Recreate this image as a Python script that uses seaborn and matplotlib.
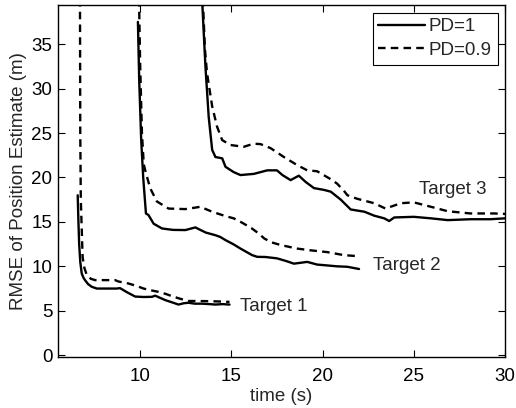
import matplotlib
matplotlib.use("Agg")
import matplotlib.pyplot as plt
import seaborn as sns
import pandas as pd

# ---------------- data ----------------
t1_pd1_t = [6.58, 6.62, 6.66, 6.72, 6.8, 6.9, 6.98, 7.15, 7.35, 7.63, 8.2, 8.72, 8.9, 9.27, 9.73,
            10.2, 10.65, 10.83, 11.1, 11.38, 11.75, 12.1, 12.4, 12.66, 13.0, 13.4, 13.8, 14.13, 14.5, 14.9]
t1_pd1_y = [18.0, 15.0, 12.5, 10.5, 9.2, 8.7, 8.45, 8.0, 7.7, 7.5, 7.5, 7.5, 7.55, 7.1, 6.6,
            6.55, 6.57, 6.7, 6.45, 6.2, 5.95, 5.7, 5.85, 5.9, 5.8, 5.8, 5.75, 5.7, 5.75, 5.7]

t1_pd09_t = [6.7, 6.72, 6.75, 6.85, 6.95, 7.08, 7.3, 7.53, 8.0, 8.63, 8.8, 9.36, 9.8, 10.19, 10.6,
             11.0, 11.4, 11.75, 12.2, 12.66, 13.2, 13.76, 14.3, 14.9]
t1_pd09_y = [45.0, 25.0, 17.5, 11.0, 9.8, 9.0, 8.6, 8.45, 8.45, 8.45, 8.3, 8.07, 7.8, 7.5, 7.3,
             7.13, 6.9, 6.64, 6.35, 6.1, 6.1, 6.08, 6.05, 6.0]

t2_pd1_t = [9.88, 9.95, 10.06, 10.17, 10.32, 10.46, 10.74, 11.2, 11.8, 12.48, 13.03, 13.3, 13.6, 14.13,
            14.4, 14.68, 15.1, 15.5, 16.14, 16.42, 16.87, 17.5, 18.0, 18.43, 19.16, 19.7, 20.26, 20.8,
            21.36, 22.0]
t2_pd1_y = [37.5, 31.0, 24.2, 20.0, 15.95, 15.77, 14.8, 14.26, 14.1, 14.08, 14.38, 14.1, 13.8, 13.5,
            13.3, 12.95, 12.5, 12.0, 11.26, 11.07, 11.05, 10.9, 10.6, 10.3, 10.5, 10.2, 10.1, 10.0,
            9.95, 9.7]

t2_pd09_t = [9.9, 10.0, 10.1, 10.2, 10.28, 10.55, 10.92, 11.56, 12.48, 13.0, 13.3, 13.95, 14.68, 15.13,
             15.6, 16.1, 16.5, 16.8, 17.2, 17.7, 18.6, 19.35, 20.26, 21.17, 21.9]
t2_pd09_y = [45.0, 33.0, 25.0, 21.5, 20.8, 18.8, 17.3, 16.5, 16.44, 16.6, 16.7, 16.14, 15.65, 15.4,
             14.9, 14.3, 13.7, 13.14, 12.7, 12.4, 12.0, 11.8, 11.6, 11.26, 11.15]

t3_pd1_t = [13.35, 13.58, 13.76, 13.95, 14.13, 14.5, 14.68, 15.13, 15.5, 16.23, 16.97, 17.5, 17.8,
            18.25, 18.7, 19.07, 19.53, 20.08, 20.45, 21.0, 21.54, 22.3, 22.83, 23.38, 23.65, 23.93,
            25.0, 25.94, 26.86, 28.1, 29.2, 30.0]
t3_pd1_y = [42.0, 32.5, 26.8, 23.1, 22.3, 22.15, 21.2, 20.6, 20.27, 20.4, 20.8, 20.8, 20.27,
            19.7, 20.2, 19.5, 18.8, 18.6, 18.4, 17.5, 16.4, 16.14, 15.7, 15.4, 15.1, 15.5,
            15.57, 15.4, 15.2, 15.3, 15.3, 15.4]

t3_pd09_t = [13.4, 13.55, 13.67, 13.95, 14.22, 14.5, 14.95, 15.68, 16.23, 16.6, 17.15, 17.88, 18.6,
             19.16, 19.7, 20.45, 20.8, 21.17, 21.36, 21.9, 22.83, 23.45, 24.29, 25.0, 25.94, 26.86,
             28.1, 29.4, 30.0]
t3_pd09_y = [42.0, 34.5, 31.7, 28.0, 25.7, 24.2, 23.65, 23.45, 23.8, 23.75, 23.3, 22.3, 21.4,
             20.8, 20.7, 19.8, 19.3, 18.5, 18.0, 17.6, 17.1, 16.5, 17.1, 17.2, 16.7, 16.2,
             15.95, 15.95, 15.9]

series_labels = ["PD=1", "PD=0.9"]
target_labels = ["Target 1", "Target 2", "Target 3"]
target_label_pos_t = [15.5, 22.75, 25.3]
target_label_pos_y = [5.5, 10.1, 18.7]

x_ticks = [10, 15, 20, 25, 30]
y_ticks = [0, 5, 10, 15, 20, 25, 30, 35]

# ---------------- build table ----------------
frames = []
series = [
    (t1_pd1_t, t1_pd1_y, "PD=1", "Target 1"),
    (t1_pd09_t, t1_pd09_y, "PD=0.9", "Target 1"),
    (t2_pd1_t, t2_pd1_y, "PD=1", "Target 2"),
    (t2_pd09_t, t2_pd09_y, "PD=0.9", "Target 2"),
    (t3_pd1_t, t3_pd1_y, "PD=1", "Target 3"),
    (t3_pd09_t, t3_pd09_y, "PD=0.9", "Target 3"),
]
for t, y, pd_lab, tg in series:
    frames.append(pd.DataFrame({"time": t, "rmse": y, "PD": pd_lab, "target": tg}))
df = pd.concat(frames, ignore_index=True)

# ---------------- plot ----------------
FS = 13.5
sns.set_theme(style="ticks")
plt.rcParams["font.family"] = ["Liberation Sans", "DejaVu Sans"]
plt.rcParams["font.size"] = FS

fig = plt.figure(figsize=(5.16, 4.08), dpi=100)
ax = fig.add_axes([0.1124, 0.125, 0.9787 - 0.1124, 0.9877 - 0.125])

sns.lineplot(data=df, x="time", y="rmse", style="PD", units="target", estimator=None,
             sort=False, color="black", linewidth=1.7,
             style_order=series_labels,
             dashes={"PD=1": "", "PD=0.9": (3.2, 2.2)}, ax=ax)

ax.set_xlim(5.5, 30)
ax.set_ylim(-0.2, 39.4)
ax.set_xticks(x_ticks)
ax.set_yticks(y_ticks)
ax.tick_params(direction="in", top=True, right=True, length=5, width=0.8,
               labelsize=FS, colors="black")
ax.tick_params(axis="x", pad=8)
ax.tick_params(axis="y", pad=4)
for s in ax.spines.values():
    s.set_visible(True)
    s.set_color("black")
    s.set_linewidth(1.0)

ax.set_xlabel("time (s)", fontsize=FS, labelpad=2)
ax.set_ylabel("RMSE of Position Estimate (m)", fontsize=FS, labelpad=3)

for lab, tx, ty in zip(target_labels, target_label_pos_t, target_label_pos_y):
    ax.text(tx, ty, lab, fontsize=FS, va="center", ha="left")

handles, labels = ax.get_legend_handles_labels()
hmap = dict(zip(labels, handles))
leg = ax.legend([hmap[l] for l in series_labels], series_labels, loc="upper right",
                fontsize=FS, frameon=True, fancybox=False, edgecolor="black",
                framealpha=1, handlelength=2.5, handletextpad=0.2, labelspacing=0.35,
                borderpad=0.3, borderaxespad=0.4)
leg.get_frame().set_linewidth(0.8)
for h in leg.get_lines():
    h.set_color("black")
    h.set_linewidth(1.7)

fig.savefig("out.png", dpi=100)
